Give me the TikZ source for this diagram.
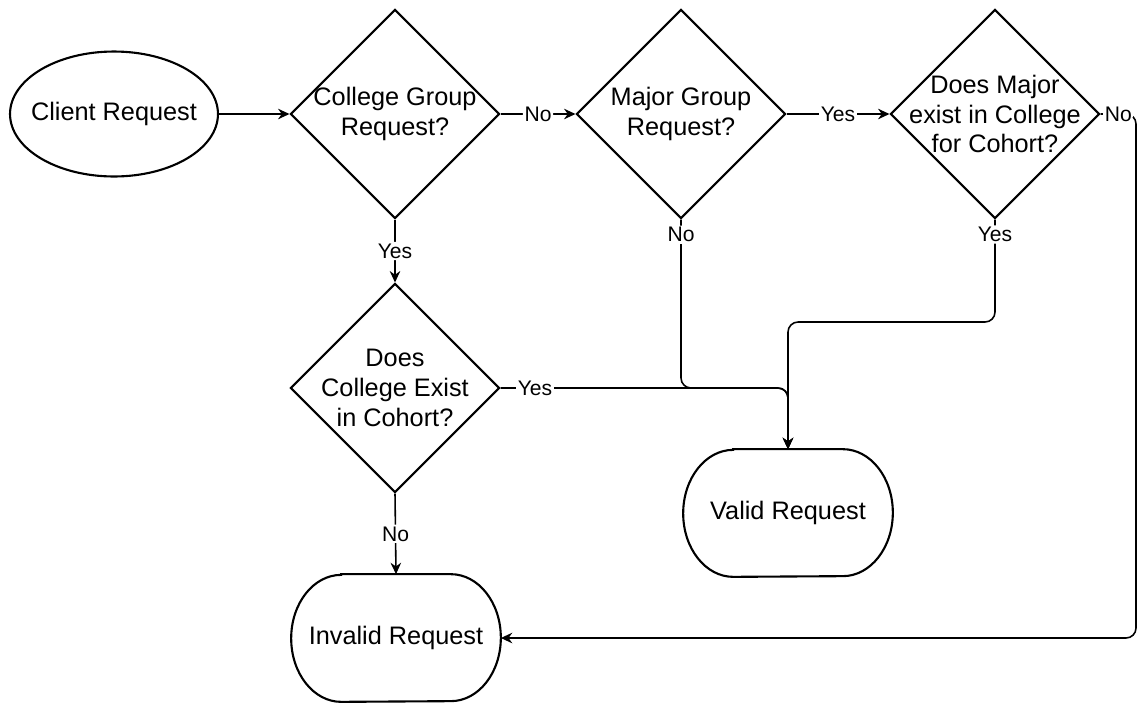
\documentclass[tikz,border=0pt]{standalone}
\usepackage{fontspec}
\setmainfont{Liberation Sans}
\usetikzlibrary{shapes.geometric,arrows.meta}
% outline of a terminal node: flat top and bottom, half-elliptic ends
\newcommand\termoutline[1]{%
  \draw[shape line] ([xshift=1cm]#1.north west) -- ([xshift=-1cm]#1.north east)
    arc[start angle=90, end angle=-90, x radius=1cm, y radius=1.27cm]
    -- ([xshift=1cm]#1.south west)
    arc[start angle=270, end angle=90, x radius=1cm, y radius=1.27cm] -- cycle;}
\begin{document}
\begin{tikzpicture}[x=0.02cm,y=-0.02cm,
  every node/.style={font=\fontsize{14.4}{17}\selectfont},
  shape line/.style={draw=black, line width=1.2pt},
  startnode/.style={shape line, ellipse, minimum width=4.16cm, minimum height=2.5cm, inner sep=0pt},
  decision/.style={shape line, diamond, minimum width=4.18cm, minimum height=4.18cm, inner sep=0pt},
  terminal/.style={rectangle, minimum width=4.18cm, minimum height=2.54cm, inner sep=0pt},
  inner text/.style={align=center, inner sep=0pt},
  flow/.style={draw=black, line width=0.9pt, -{Stealth[length=6.5pt,width=6pt]}, rounded corners=0.2cm},
  cond/.style={fill=white, inner sep=1pt, font=\fontsize{12}{14}\selectfont},
]
\useasboundingbox (0,0) rectangle (1138,704);

% start (text set as a centred label so the outline keeps a fixed size)
\node[startnode, label={[inner text, name=ct]center:{Client Request}}] (client) at (114,114) {};

% decisions
\node[decision, label={[inner text, name=d1t]center:{College Group\\Request?}}] (d1) at (395,114) {};
\node[decision, label={[inner text, name=d2t]center:{Major Group\\Request?}}] (d2) at (681,114) {};
\node[decision, label={[inner text, name=d3t]center:{Does Major\\exist in College\\for Cohort?}}] (d3) at (995,114) {};
\node[decision, label={[inner text, name=d4t]center:{Does\\College Exist\\in Cohort?}}] (d4) at (395,388) {};

% outcomes
\node[terminal] (valid) at (788,513) {\raisebox{3pt}{Valid Request}};
\node[terminal] (invalid) at (396,638) {\raisebox{1pt}{Invalid Request}};
\termoutline{valid}
\termoutline{invalid}

% routing points
\coordinate (j) at (valid.north |- d4.east);
\coordinate (k) at (900,322);
\coordinate (r) at (1136,0);

% connectors
\draw[flow] (client.east) -- (d1.west);
\draw[flow] (d1.east) -- node[cond] (l1) {No} (d2.west);
\draw[flow] (d2.east) -- node[cond] (l2) {Yes} (d3.west);
\draw[flow] (d1.south) -- node[cond] (l3) {Yes} (d4.north);
\draw[flow] (d4.south) -- node[cond] (l4) {No} (invalid.north);
\draw[flow] (d4.east) -- node[cond, pos=0.12] (l5) {Yes} (j) -- (valid.north);
\draw[flow] (d2.south) -- node[cond, pos=0.09] (l6) {No} (d2.south |- j) -- (j) -- (valid.north);
\draw[flow] (d3.south) -- node[cond, pos=0.145] (l7) {Yes} (d3.south |- k) -- (valid.north |- k) -- (valid.north);
\draw[flow] (d3.east) -- node[cond] (l8) {No} (d3.east -| r) -- (r |- invalid.east) -- (invalid.east);
\end{tikzpicture}
\end{document}
